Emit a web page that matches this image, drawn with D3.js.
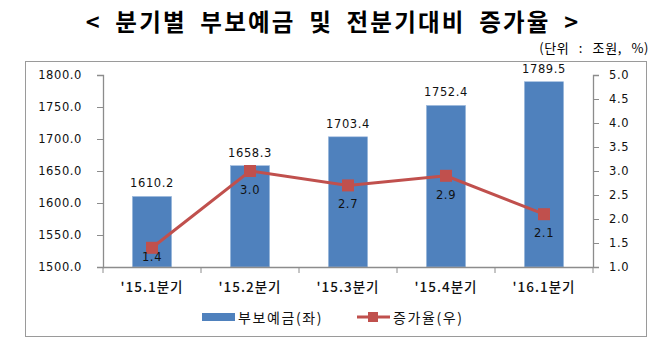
<!DOCTYPE html>
<html>
<head>
<meta charset="utf-8">
<script src="https://cdn.jsdelivr.net/npm/d3@7"></script>
<style>
  html, body { margin: 0; padding: 0; background: #fff; }
  svg { display: block; }
  .num { font-family: "DejaVu Sans", Verdana, sans-serif; font-size: 11.5px; letter-spacing: 0.6px; fill: #111; }
  .kr { font-family: "Noto Sans CJK KR", sans-serif; }
</style>
</head>
<body>
<svg id="chart" width="672" height="350"></svg>
<script>
// Quarterly insured deposits (trillion won) and quarter-on-quarter growth (%)
const categories = ["'15.1분기", "'15.2분기", "'15.3분기", "'15.4분기", "'16.1분기"];
const deposits = [1610.2, 1658.3, 1703.4, 1752.4, 1789.5];
const growth = [1.4, 3.0, 2.7, 2.9, 2.1];
const leftTicks = [1500, 1550, 1600, 1650, 1700, 1750, 1800];
const rightTicks = [1.0, 1.5, 2.0, 2.5, 3.0, 3.5, 4.0, 4.5, 5.0];

const svg = d3.select("#chart");
const plot = { left: 103, right: 593, top: 75, bottom: 267 };
const barColor = "#4F81BD", lineColor = "#C0504D", axisColor = "#8C8C8C";

// Title and unit note
svg.append("text").attr("class", "kr")
  .attr("x", 333).attr("y", 31).attr("text-anchor", "middle")
  .attr("font-size", 23.5).attr("font-weight", 700).attr("fill", "#000")
  .attr("letter-spacing", 2.2).attr("word-spacing", 6)
  .text("< 분기별 부보예금 및 전분기대비 증가율 >");
svg.append("text").attr("class", "kr")
  .attr("x", 649).attr("y", 53).attr("text-anchor", "end")
  .attr("font-size", 13).attr("fill", "#000")
  .attr("letter-spacing", 0.6).attr("word-spacing", 6)
  .text("(단위 : 조원, %)");

// Chart frame
svg.append("rect").attr("x", 25.5).attr("y", 61.5).attr("width", 621).attr("height", 275)
  .attr("fill", "none").attr("stroke", "#9A9A9A").attr("stroke-width", 1);

const x = d3.scaleBand().domain(categories).range([plot.left, plot.right]).paddingInner(0.6).paddingOuter(0.3);
const xb = d3.scaleBand().domain(categories).range([plot.left, plot.right]);
const yL = d3.scaleLinear().domain([1500, 1800]).range([plot.bottom, plot.top]);
const yR = d3.scaleLinear().domain([1.0, 5.0]).range([plot.bottom, plot.top]);

// Left axis
const gL = svg.append("g").attr("transform", `translate(${plot.left},0)`)
  .call(d3.axisLeft(yL).tickValues(leftTicks).tickFormat(d3.format(".1f")).tickSizeOuter(0).tickSize(6).tickPadding(15));
// Right axis
const gR = svg.append("g").attr("transform", `translate(${plot.right},0)`)
  .call(d3.axisRight(yR).tickValues(rightTicks).tickFormat(d3.format(".1f")).tickSizeOuter(0).tickSize(6).tickPadding(10));
[gL, gR].forEach(g => {
  g.select(".domain").attr("stroke", axisColor).attr("stroke-width", 1.3);
  g.selectAll(".tick line").attr("stroke", axisColor);
  g.selectAll(".tick text").attr("class", "num").attr("fill", "#111");
});

// Bars
svg.append("g").selectAll("rect").data(deposits).join("rect")
  .attr("x", (d, i) => x(categories[i]))
  .attr("width", x.bandwidth())
  .attr("y", d => yL(d))
  .attr("height", d => yL(1500) - yL(d))
  .attr("fill", barColor)
  .attr("stroke", "#9DB9DD").attr("stroke-width", 0.6);

// Bar value labels
svg.append("g").selectAll("text").data(deposits).join("text")
  .attr("class", "num")
  .attr("x", (d, i) => xb(categories[i]) + xb.bandwidth() / 2)
  .attr("y", d => yL(d) - 9)
  .attr("text-anchor", "middle")
  .text(d => d3.format(".1f")(d));

// Category axis
const gX = svg.append("g").attr("transform", `translate(0,${plot.bottom})`);
gX.append("line").attr("x1", plot.left).attr("x2", plot.right).attr("y1", 0.5).attr("y2", 0.5)
  .attr("stroke", axisColor).attr("stroke-width", 1.3);
gX.selectAll("line.tk").data(d3.range(categories.length + 1)).join("line").attr("class", "tk")
  .attr("x1", i => plot.left + i * xb.step()).attr("x2", i => plot.left + i * xb.step())
  .attr("y1", 0).attr("y2", 6).attr("stroke", axisColor);
gX.selectAll("text").data(categories).join("text")
  .attr("class", "kr")
  .attr("x", d => xb(d) + xb.bandwidth() / 2)
  .attr("y", 25)
  .attr("text-anchor", "middle")
  .attr("font-size", 13.5).attr("font-weight", 500).attr("fill", "#111")
  .attr("letter-spacing", 1)
  .text(d => d);

// Growth line
const cx = (d, i) => xb(categories[i]) + xb.bandwidth() / 2;
svg.append("path").datum(growth)
  .attr("d", d3.line().x(cx).y(d => yR(d)))
  .attr("fill", "none").attr("stroke", lineColor).attr("stroke-width", 3);
svg.append("g").selectAll("rect").data(growth).join("rect")
  .attr("x", (d, i) => cx(d, i) - 6).attr("y", d => yR(d) - 6)
  .attr("width", 12).attr("height", 12).attr("fill", lineColor);

// Growth value labels (below markers)
svg.append("g").selectAll("text").data(growth).join("text")
  .attr("class", "num")
  .attr("x", cx)
  .attr("y", d => Math.min(yR(d) + 23, plot.bottom - 6))
  .attr("text-anchor", "middle")
  .text(d => d3.format(".1f")(d));

// Legend
const lg = svg.append("g");
lg.append("rect").attr("x", 202).attr("y", 313).attr("width", 33).attr("height", 8).attr("fill", barColor);
lg.append("text").attr("class", "kr").attr("x", 238).attr("y", 323)
  .attr("font-size", 14).attr("fill", "#111").attr("letter-spacing", 1.6).text("부보예금(좌)");
lg.append("line").attr("x1", 357).attr("x2", 390).attr("y1", 317).attr("y2", 317)
  .attr("stroke", lineColor).attr("stroke-width", 3);
lg.append("rect").attr("x", 368).attr("y", 312).attr("width", 10).attr("height", 10).attr("fill", lineColor);
lg.append("text").attr("class", "kr").attr("x", 393).attr("y", 323)
  .attr("font-size", 14).attr("fill", "#111").attr("letter-spacing", 1.6).text("증가율(우)");
</script>
</body>
</html>
